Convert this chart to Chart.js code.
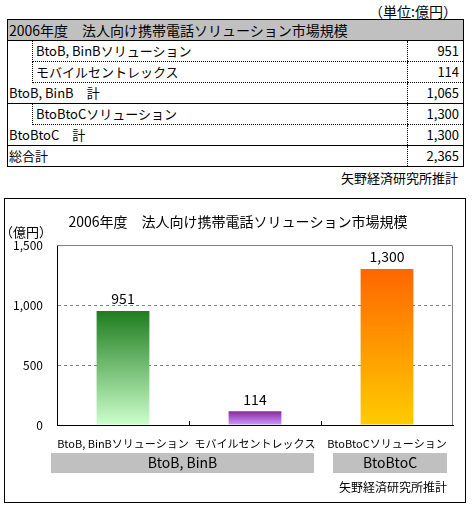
<!DOCTYPE html>
<html>
<head>
<meta charset="utf-8">
<script src="https://cdn.jsdelivr.net/npm/chart.js@4"></script>
<style>
  body { margin: 0; width: 474px; height: 511px; background: #fff; position: relative;
         font-family: "Noto Sans CJK JP", sans-serif; color: #000; overflow: hidden; }
  #unit { position: absolute; top: 1px; right: 17px; font-size: 14px; }
  #tbl { position: absolute; left: 7px; top: 19px; width: 456px; border-collapse: collapse;
         border: 1px solid #000; font-size: 13px; table-layout: fixed; }
  #tbl td { height: 20px; padding: 0 3px; line-height: 20px; white-space: nowrap; }
  #tbl td.hd { background: #c0c0c0; border-bottom: 1px solid #000; padding-left: 1px; font-size: 14px; }
  #tbl td.ind { padding: 0; }
  #tbl td.sub { border-left: 1px dotted #000; border-bottom: 1px dotted #000; }
  #tbl td.num { text-align: right; border-left: 1px dotted #000; border-bottom: 1px dotted #000; padding-right: 4px; }
  #tbl tr.tot td { border-bottom: 1px solid #000; padding-left: 1px; }
  #tbl tr.tot td.num { padding-right: 4px; }
  #src1 { position: absolute; top: 168px; right: 16px; font-size: 13px; }
  #box { position: absolute; left: 4px; top: 198px; width: 460px; height: 303px; border: 1px solid #000; }
  #wrap { position: absolute; left: 0; top: 0; width: 460px; height: 303px; }
</style>
</head>
<body>
<div id="unit">（単位:億円）</div>
<table id="tbl"></table>
<div id="src1">矢野経済研究所推計</div>
<div id="box"><div id="wrap"><canvas id="myChart"></canvas></div></div>

<script>
const titulo = "2006年度　法人向け携帯電話ソリューション市場規模";
const categorias = ["BtoB, BinBソリューション", "モバイルセントレックス", "BtoBtoCソリューション"];
const valores = [951, 114, 1300];
const grupos = ["BtoB, BinB", "BtoBtoC"];
const gruposCant = [2, 1];
const subtotales = ["BtoB, BinB　計", "BtoBtoC　計"];
const subtotalValores = [1065, 1300];
const totalNombre = "総合計";
const totalValor = 2365;
const fuente = "矢野経済研究所推計";
const colorArriba = ["#1e7d1e", "#8a2a9c", "#ff6600"];
const colorAbajo = ["#ccffcc", "#cc99ff", "#ffcc00"];

const fmt = n => n.toLocaleString("en-US");

// tabla
let html = '<colgroup><col style="width:25px"><col style="width:375px"><col style="width:56px"></colgroup>';
html += '<tr><td class="hd" colspan="3">' + titulo + '</td></tr>';
let k = 0;
grupos.forEach((g, gi) => {
  for (let j = 0; j < gruposCant[gi]; j++) {
    html += '<tr>';
    if (j === 0) html += '<td class="ind" rowspan="' + gruposCant[gi] + '"></td>';
    html += '<td class="sub">' + categorias[k] + '</td><td class="num">' + fmt(valores[k]) + '</td></tr>';
    k++;
  }
  html += '<tr class="tot"><td colspan="2">' + subtotales[gi] + '</td><td class="num">' + fmt(subtotalValores[gi]) + '</td></tr>';
});
html += '<tr class="tot"><td colspan="2">' + totalNombre + '</td><td class="num">' + fmt(totalValor) + '</td></tr>';
document.querySelector("#tbl").innerHTML = html;

const fuenteJP = '"Noto Sans CJK JP", sans-serif';

const extras = {
  id: 'extras',
  beforeDatasetsDraw(chart) {
    const {ctx, chartArea: a} = chart;
    ctx.save();
    ctx.strokeStyle = '#808080';
    ctx.lineWidth = 1;
    ctx.beginPath();
    ctx.moveTo(a.left, a.top + 0.5);
    ctx.lineTo(a.right - 0.5, a.top + 0.5);
    ctx.lineTo(a.right - 0.5, a.bottom);
    ctx.stroke();
    ctx.restore();
  },
  afterDraw(chart) {
    const {ctx, chartArea: a, scales: {x, y}} = chart;
    ctx.save();
    ctx.fillStyle = '#000';
    ctx.font = '14px ' + fuenteJP;
    ctx.textAlign = 'center';
    ctx.textBaseline = 'middle';
    ctx.fillText(titulo, 233, 23);
    ctx.textAlign = 'left';
    ctx.font = '13px ' + fuenteJP;
    ctx.fillText('（億円）', -5, 33);

    // valores encima de las barras
    ctx.textAlign = 'center';
    ctx.font = '14px ' + fuenteJP;
    chart.getDatasetMeta(0).data.forEach((bar, i) => {
      ctx.fillText(fmt(valores[i]), bar.x, bar.y - 12);
    });

    // marcas entre categorias
    ctx.strokeStyle = '#000';
    ctx.beginPath();
    for (let i = 1; i < categorias.length; i++) {
      const px = Math.round((x.getPixelForValue(i - 1) + x.getPixelForValue(i)) / 2) + 0.5;
      ctx.moveTo(px, a.bottom);
      ctx.lineTo(px, a.bottom - 4);
    }
    ctx.stroke();

    // grupos
    const paso = x.getPixelForValue(1) - x.getPixelForValue(0);
    let ini = 0;
    grupos.forEach((g, gi) => {
      const fin = ini + gruposCant[gi] - 1;
      const x0 = x.getPixelForValue(ini) - paso / 2 + (gi === 0 ? -6 : 12);
      const x1 = x.getPixelForValue(fin) + paso / 2 + (gi === 0 ? -7 : -6);
      ctx.fillStyle = '#c0c0c0';
      ctx.fillRect(x0, a.bottom + 28, x1 - x0, 20);
      ctx.fillStyle = '#000';
      ctx.font = '14px ' + fuenteJP;
      ctx.fillText(g, (x0 + x1) / 2, a.bottom + 38);
      ini = fin + 1;
    });

    ctx.textAlign = 'right';
    ctx.font = '12px ' + fuenteJP;
    ctx.fillText(fuente, 442, 288);
    ctx.restore();
  }
};

function degradado(c) {
  const chart = c.chart;
  const y = chart.scales.y;
  if (!chart.chartArea || !y) return colorArriba[c.dataIndex];
  const top = y.getPixelForValue(valores[c.dataIndex]);
  const bottom = y.getPixelForValue(0);
  const g = chart.ctx.createLinearGradient(0, top, 0, bottom);
  g.addColorStop(0, colorArriba[c.dataIndex]);
  g.addColorStop(1, colorAbajo[c.dataIndex]);
  return g;
}

const ctx1 = document.querySelector("#myChart").getContext("2d");
let myChart = new Chart(ctx1, {
  type: 'bar',
  data: {
    labels: categorias,
    datasets: [{
      data: valores,
      backgroundColor: degradado,
      borderWidth: 0,
      barPercentage: 0.4,
      categoryPercentage: 1
    }]
  },
  options: {
    responsive: true,
    maintainAspectRatio: false,
    animation: false,
    layout: { padding: { top: 46, right: 12, left: 0, bottom: 0 } },
    plugins: { legend: { display: false }, tooltip: { enabled: false } },
    scales: {
      x: {
        grid: { display: false, drawTicks: false },
        border: { display: true, color: '#000', width: 1 },
        ticks: { color: '#000', font: { family: fuenteJP, size: 11 }, padding: 12, maxRotation: 0, autoSkip: false },
        afterFit(s) { s.height = 77; }
      },
      y: {
        min: 0, max: 1500,
        ticks: { stepSize: 500, color: '#000', font: { family: fuenteJP, size: 12 }, padding: 14,
                 callback: v => fmt(v) },
        grid: {
          color: c => (c.tick && (c.tick.value === 0 || c.tick.value === 1500)) ? 'rgba(0,0,0,0)' : '#808080',
          drawTicks: false
        },
        border: { display: true, color: '#000', width: 1, dash: [3, 3] },
        afterFit(s) { s.width = 52; }
      }
    }
  },
  plugins: [extras]
});
</script>
</body>
</html>
